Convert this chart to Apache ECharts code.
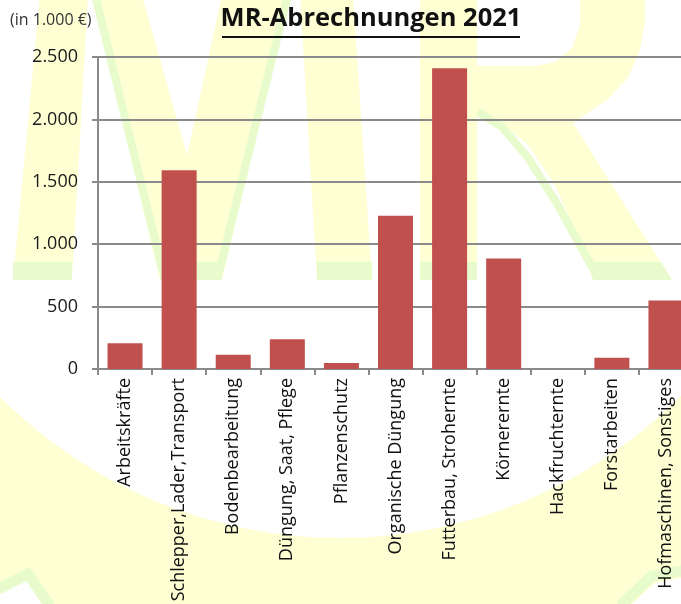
<!DOCTYPE html>
<html>
<head>
<meta charset="utf-8">
<style>
  html, body { margin: 0; padding: 0; background: #ffffff; }
  #chart { width: 681px; height: 604px; }
</style>
<script src="https://cdn.jsdelivr.net/npm/echarts@6/dist/echarts.min.js"></script>
</head>
<body>
<div id="chart"></div>
<script>
// Kategorien der MR-Abrechnungen
const categories = [
  'Arbeitskräfte',
  'Schlepper,Lader,Transport',
  'Bodenbearbeitung',
  'Düngung, Saat, Pflege',
  'Pflanzenschutz',
  'Organische Düngung',
  'Futterbau, Strohernte',
  'Körnerernte',
  'Hackfruchternte',
  'Forstarbeiten',
  'Hofmaschinen, Sonstiges'
]

// Werte in 1.000 €
const values = [207, 1593, 114, 238, 49, 1228, 2410, 886, 0, 90, 549]

// Achse
const yMin = 0
const yMax = 2500
const yStep = 500

const yellow = '#ffffd4'
const green = '#e8fbcc'

// Tausenderpunkt wie im Original
const fmtDe = (v) => String(v).replace(/\B(?=(\d{3})+(?!\d))/g, '.')

// Hintergrund-Logo (MR)
const bg = (el) => Object.assign({ z: -20, silent: true }, el)
const logo = [
  bg({ type: 'rect', shape: { x: 0, y: 0, width: 681, height: 604 }, style: { fill: yellow } }),
  bg({ type: 'circle', shape: { cx: 340, cy: 58, r: 480 }, style: { fill: '#ffffff' } }),
  // M
  bg({ type: 'polygon', shape: { points: [[40, -5], [88, -5], [72, 280], [13, 280]] }, style: { fill: yellow } }),
  bg({ type: 'polygon', shape: { points: [[92, -5], [142, -5], [222, 280], [160, 280]] }, style: { fill: yellow } }),
  bg({ type: 'polygon', shape: { points: [[222, -5], [290, -5], [222, 280], [160, 280]] }, style: { fill: yellow } }),
  bg({ type: 'polygon', shape: { points: [[300, -5], [353, -5], [372, 280], [317, 280]] }, style: { fill: yellow } }),
  // R
  bg({ type: 'polygon', shape: { points: [[420, -5], [645, -5], [645, 20], [640, 50], [628, 78], [607, 100], [573, 123], [672, 280], [593, 280], [577, 235], [555, 185], [528, 145], [500, 122], [477, 115], [477, 280], [420, 280]] }, style: { fill: yellow } }),
  bg({ type: 'polygon', shape: { points: [[477, -5], [580, -5], [580, 25], [572, 48], [555, 62], [535, 66], [477, 66]] }, style: { fill: '#ffffff' } }),
  // gruene Linien
  bg({ type: 'polyline', shape: { points: [[95, -5], [163, 272]] }, style: { stroke: green, lineWidth: 8, fill: null } }),
  bg({ type: 'polyline', shape: { points: [[288, -5], [219, 272]] }, style: { stroke: green, lineWidth: 8, fill: null } }),
  bg({ type: 'polyline', shape: { points: [[478, 112], [502, 127], [529, 159], [556, 202], [581, 247], [595, 272]] }, style: { stroke: green, lineWidth: 8, fill: null } }),
  bg({ type: 'rect', shape: { x: 13, y: 262, width: 59, height: 18 }, style: { fill: green } }),
  bg({ type: 'rect', shape: { x: 160, y: 262, width: 62, height: 18 }, style: { fill: green } }),
  bg({ type: 'rect', shape: { x: 317, y: 262, width: 55, height: 18 }, style: { fill: green } }),
  bg({ type: 'rect', shape: { x: 420, y: 262, width: 57, height: 18 }, style: { fill: green } }),
  bg({ type: 'polygon', shape: { points: [[588, 262], [661, 262], [672, 280], [593, 280]] }, style: { fill: green } }),
  // Ecken unten
  bg({ type: 'polygon', shape: { points: [[0, 604], [0, 592], [27, 580], [44, 604]] }, style: { fill: '#ffffff' } }),
  bg({ type: 'polyline', shape: { points: [[-5, 591], [28, 574], [50, 606]] }, style: { stroke: green, lineWidth: 11, fill: null } }),
  bg({ type: 'polygon', shape: { points: [[632, 604], [655, 583], [681, 578], [681, 604]] }, style: { fill: '#ffffff' } }),
  bg({ type: 'polyline', shape: { points: [[620, 606], [652, 576], [686, 570]] }, style: { stroke: green, lineWidth: 11, fill: null } })
]

const texts = [
  { type: 'text', left: 10, top: 12, z: 10, style: { text: '(in 1.000 €)', fontFamily: 'Open Sans', fontSize: 16, fill: '#333333' } },
  { type: 'text', x: 371, y: 6, z: 10, style: { text: 'MR-Abrechnungen 2021', fontFamily: 'Open Sans', fontWeight: 'bold', fontSize: 25.5, fill: '#111111', align: 'center' } },
  { type: 'rect', shape: { x: 222, y: 36, width: 298, height: 2 }, z: 10, style: { fill: '#111111' } }
]

const chart = echarts.init(document.getElementById('chart'))

chart.setOption({
  animation: false,
  backgroundColor: '#ffffff',
  graphic: { elements: logo.concat(texts) },
  grid: {
    left: 98,
    top: 57,
    width: 595,
    height: 312,
    containLabel: false,
    outerBoundsMode: 'none'
  },
  xAxis: {
    type: 'category',
    data: categories,
    axisLine: { lineStyle: { color: '#8a8a8a', width: 2 } },
    axisTick: { show: true, length: 6, lineStyle: { color: '#8a8a8a', width: 2 } },
    axisLabel: {
      rotate: 90,
      interval: 0,
      margin: 9,
      fontFamily: 'Open Sans',
      fontSize: 18,
      color: '#111111'
    }
  },
  yAxis: {
    type: 'value',
    min: yMin,
    max: yMax,
    interval: yStep,
    axisLine: { show: true, lineStyle: { color: '#8a8a8a', width: 2 } },
    axisTick: { show: true, length: 6, lineStyle: { color: '#8a8a8a', width: 2 } },
    splitLine: { lineStyle: { color: '#8a8a8a', width: 2 } },
    axisLabel: {
      margin: 20,
      fontFamily: 'Open Sans',
      fontSize: 18,
      color: '#1a1a1a',
      formatter: fmtDe
    }
  },
  series: [{
    type: 'bar',
    data: values,
    barWidth: 35,
    itemStyle: { color: '#c0504d' }
  }]
})
</script>
</body>
</html>
